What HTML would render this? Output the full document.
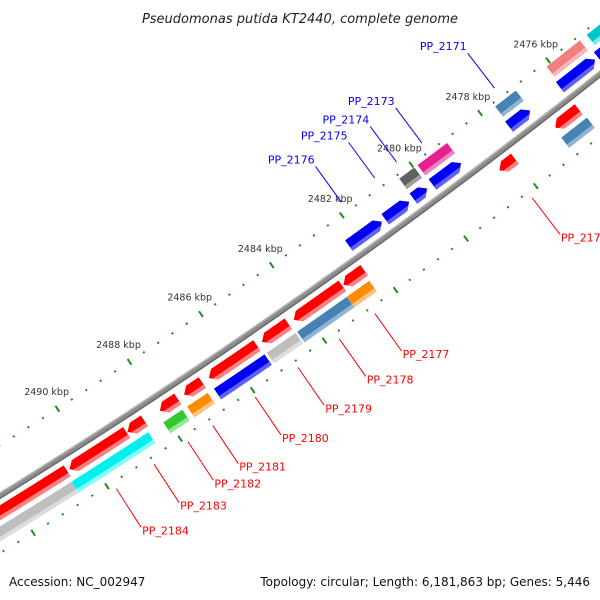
<!DOCTYPE html>
<html><head><meta charset="utf-8">
<style>
html,body{margin:0;padding:0;background:#fff;}
svg{display:block;font-family:"DejaVu Sans","Liberation Sans",sans-serif;}
</style></head>
<body>
<svg id="map" width="600" height="600" viewBox="0 0 600 600" xmlns="http://www.w3.org/2000/svg">
<rect width="600" height="600" fill="#fff"/>
<defs id="defs"></defs>
<g id="ticks"></g>
<g id="backbone"></g>
<g id="genes"></g>
<g id="labels"></g>
<text x="300" y="23" text-anchor="middle" font-size="13" font-style="italic" fill="#222">Pseudomonas putida KT2440, complete genome</text>
<text x="9" y="586" font-size="12" fill="#111">Accession: NC_002947</text>
<text x="590" y="586" text-anchor="end" font-size="12" fill="#111">Topology: circular; Length: 6,181,863 bp; Genes: 5,446</text>
</svg>
<script>
// gene data (kbp)
const geneStart = [2490.58,2488.95,2488.46,2487.54,2486.86,2485.34,2484.46,2482.94,2482.32,2478.0,2476.14,
  2490.63,2488.53,2487.59,2486.89,2485.31,2484.44,2483.0,2482.37,2476.11,
  2481.33,2480.55,2480.03,2479.05,2477.04,2475.13,2474.0,
  2479.98,2479.03,2477.02,2475.13,2474.0];
const geneEnd = [2493.5,2490.52,2488.93,2488.04,2487.37,2486.68,2485.2,2484.31,2482.91,2478.45,2476.83,
  2493.5,2490.63,2488.12,2487.46,2486.72,2485.25,2484.4,2483.0,2476.86,
  2482.28,2481.24,2480.43,2479.88,2477.66,2476.17,2475.05,
  2480.42,2479.89,2477.63,2476.12,2474.93];
const geneTrack = [1,1,1,1,1,1,1,1,1,1,1, 2,2,2,2,2,2,2,2,2, -1,-1,-1,-1,-1,-1,-1, -2,-2,-2,-2,-2];
const geneColor = ["#ff0000","#ff0000","#ff0000","#ff0000","#ff0000","#ff0000","#ff0000","#ff0000","#ff0000","#ff0000","#ff0000",
  "#bebebe","#00f0f0","#32c832","#ff8c00","#0000f0","#bebebe","#4682b4","#ff8c00","#4682b4",
  "#0000f0","#0000f0","#0000f0","#0000f0","#0000f0","#0000f0","#0000f0",
  "#606060","#e6208c","#4682b4","#f08080","#00c8c8"];
const geneLight = ["#ff8080","#ff8080","#ff8080","#ff8080","#ff8080","#ff8080","#ff8080","#ff8080","#ff8080","#ff8080","#ff8080",
  "#dcdcdc","#80ffff","#90e890","#ffc080","#6060ff","#dcdcdc","#8fb4d6","#ffc080","#8fb4d6",
  "#6060ff","#6060ff","#6060ff","#6060ff","#6060ff","#6060ff","#6060ff",
  "#a0a0a0","#f080c0","#8fb4d6","#f8b8b8","#80e8e8"];
// labels
const labelText = ["PP_2171","PP_2173","PP_2174","PP_2175","PP_2176","PP_2172","PP_2177","PP_2178","PP_2179","PP_2180","PP_2181","PP_2182","PP_2183","PP_2184"];
const labelKbp = [2477.38,2479.5,2480.24,2480.87,2481.83,2478.23,2482.7,2483.7,2484.85,2486.04,2487.21,2487.89,2488.82,2489.85];
const labelSide = [-1,-1,-1,-1,-1,1,1,1,1,1,1,1,1,1];
// ticks
const tickLabels = [2476,2478,2480,2482,2484,2486,2488,2490];
const tickFrom = 2474.0, tickTo = 2494.0, tickStep = 0.4;

const NS = "http://www.w3.org/2000/svg";
const CX = -3316, CY = -4861, R = 6300;
const PHI0 = 55.80*Math.PI/180, K = 43/6257;
function ang(kbp){ return PHI0 + (kbp-2486)*K; }
function pt(r,kbp){ const a=ang(kbp); return [CX+r*Math.cos(a), CY+r*Math.sin(a)]; }
function f(p){ return p[0].toFixed(2)+" "+p[1].toFixed(2); }
function el(tag, attrs, parent){ const e=document.createElementNS(NS,tag); for(const k in attrs) e.setAttribute(k,attrs[k]); parent.appendChild(e); return e; }
function band(r1,r2,a,b){
  return "M"+f(pt(r2,a))+" A"+r2+" "+r2+" 0 0 1 "+f(pt(r2,b))+" L"+f(pt(r1,b))+" A"+r1+" "+r1+" 0 0 0 "+f(pt(r1,a))+"Z";
}
function arrowPath(r1,r2,a,b,dir){
  const rm=(r1+r2)/2, h=Math.min(0.16,(b-a)*0.6);
  if(dir>0){ // tip at b
    return "M"+f(pt(r2,a))+" A"+r2+" "+r2+" 0 0 1 "+f(pt(r2,b-h))+" L"+f(pt(rm,b))+" L"+f(pt(r1,b-h))+" A"+r1+" "+r1+" 0 0 0 "+f(pt(r1,a))+"Z";
  } else { // tip at a
    return "M"+f(pt(rm,a))+" L"+f(pt(r2,a+h))+" A"+r2+" "+r2+" 0 0 1 "+f(pt(r2,b))+" L"+f(pt(r1,b))+" A"+r1+" "+r1+" 0 0 0 "+f(pt(r1,a+h))+"Z";
  }
}

// ticks
const tg=document.getElementById("ticks");
const nT=Math.round((tickTo-tickFrom)/tickStep);
for(let i=0;i<=nT;i++){
  const kbp=tickFrom+i*tickStep;
  const major=Math.abs(kbp/2-Math.round(kbp/2))<1e-6;
  [R-43,R+49].forEach(rr=>{
    const half=major?3.5:1;
    const p1=pt(rr-half,kbp), p2=pt(rr+half,kbp);
    const ln=el("line",{x1:p1[0],y1:p1[1],x2:p2[0],y2:p2[1],stroke:"#1e8c1e","stroke-width":2},tg);
    
    
  });
}
tickLabels.forEach(v=>{
  const p=pt(R-63,v);
  const t=el("text",{x:p[0],y:p[1]+3,"text-anchor":"middle","font-size":"9.5",fill:"#333"},tg);
  t.textContent=v+" kbp";
  
  
});

// backbone
const bb=document.getElementById("backbone");
const p0=band(R-3,R+3,2472,2496);
let e=el("path",{d:p0,fill:"#8c8c8c"},bb);


e=el("path",{d:band(R-3,R-1.5,2472,2496),fill:"#b4b4b4"},bb);


e=el("path",{d:band(R+1.5,R+3,2472,2496),fill:"#6a6a6a"},bb);



// genes
const gg=document.getElementById("genes"), defs=document.getElementById("defs");
const trackR={"1":[R+8,R+21],"2":[R+26,R+39],"-1":[R-21,R-8],"-2":[R-39,R-26]};
for(let i=0;i<geneStart.length;i++){
  const tr=geneTrack[i], rr=trackR[String(tr)];
  const a=geneStart[i], b=geneEnd[i];
  let d;
  if(tr===1) d=arrowPath(rr[0],rr[1],a,b,1);
  else if(tr===-1) d=arrowPath(rr[0],rr[1],a,b,-1);
  else d=band(rr[0],rr[1],a,b);
  const cp=el("clipPath",{id:"gc"+i},defs);
  el("path",{d:d},cp);
  const g=el("g",{"clip-path":"url(#gc"+i+")"},gg);
  
  
  const m=el("path",{d:d,fill:geneColor[i]},g);
  
  
  const s=el("path",{d:band(rr[1]-4,rr[1]+1,a-0.5,b+0.5),fill:geneLight[i]},g);
  
  
}

// labels
const lg=document.getElementById("labels");
for(let i=0;i<labelText.length;i++){
  const side=labelSide[i], kbp=labelKbp[i];
  const col=side>0?"#ff0000":"#0000ff";
  const p1=side>0?pt(R+56,kbp):pt(R-54,kbp);
  const p2=side>0?pt(R+102,kbp):pt(R-98,kbp);
  const ln=el("line",{x1:p1[0],y1:p1[1],x2:p2[0],y2:p2[1],stroke:col,"stroke-width":1},lg);
  
  
  const t=el("text",{"font-size":"11",fill:col},lg);
  if(side>0){ t.setAttribute("x",p2[0]+1); t.setAttribute("y",p2[1]+7); }
  else { t.setAttribute("x",p2[0]-1); t.setAttribute("y",p2[1]-3); t.setAttribute("text-anchor","end"); }
  t.textContent=labelText[i];
  
  
}
</script>
</body></html>
